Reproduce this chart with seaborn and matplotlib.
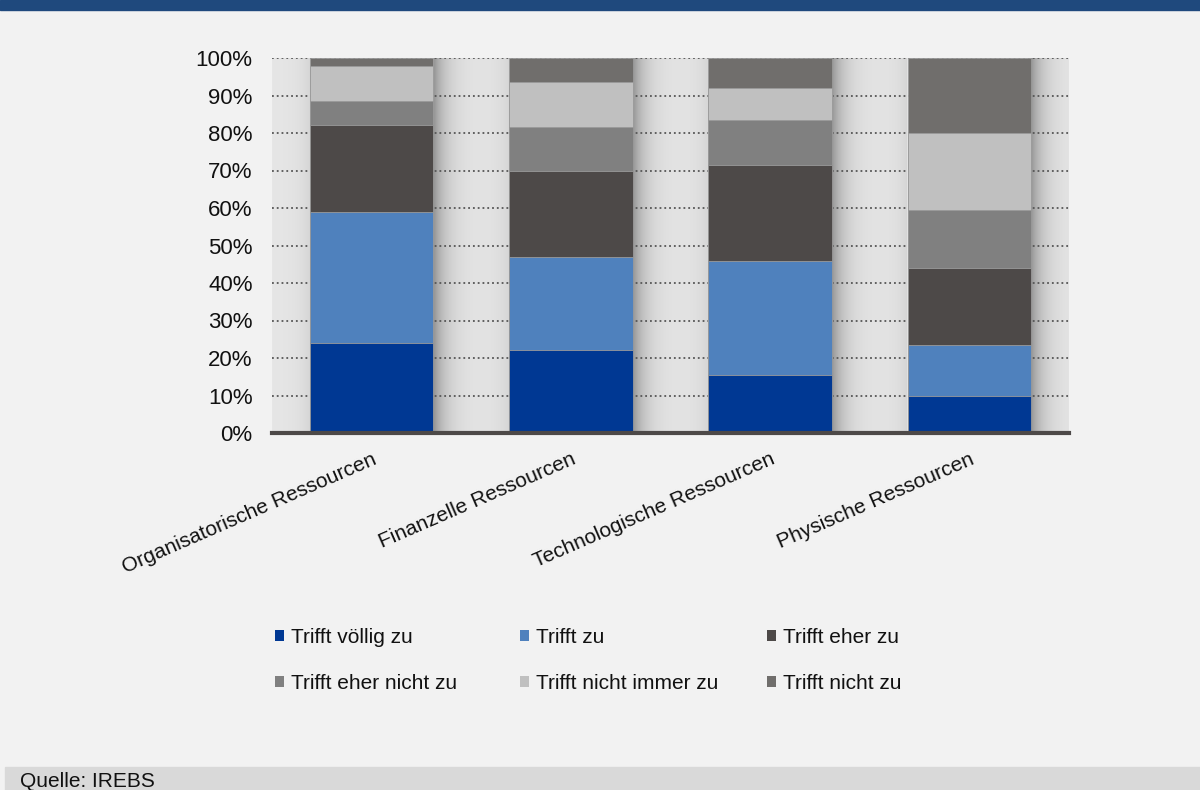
import numpy as np
import pandas as pd
import matplotlib.pyplot as plt
import seaborn as sns
from matplotlib.patches import Rectangle, Patch

# Werte (Anteile in %)
categories = ['Organisatorische Ressourcen', 'Finanzelle Ressourcen',
              'Technologische Ressourcen', 'Physische Ressourcen']
answers = ['Trifft völlig zu', 'Trifft zu', 'Trifft eher zu',
           'Trifft eher nicht zu', 'Trifft nicht immer zu', 'Trifft nicht zu']
voellig_zu = [24.0, 22.2, 15.6, 10.0]
trifft_zu = [35.0, 24.7, 30.4, 13.4]
eher_zu = [23.2, 22.9, 25.5, 20.5]
eher_nicht_zu = [6.3, 11.9, 12.0, 15.6]
nicht_immer_zu = [9.4, 11.8, 8.6, 20.5]
nicht_zu = [2.1, 6.5, 7.9, 20.0]
colors = ['#003893', '#4f81bd', '#4d4948', '#808080', '#c0c0c0', '#706e6c']
yticks = [0, 10, 20, 30, 40, 50, 60, 70, 80, 90, 100]

df = pd.DataFrame({
    'Ressource': categories,
    answers[0]: voellig_zu,
    answers[1]: trifft_zu,
    answers[2]: eher_zu,
    answers[3]: eher_nicht_zu,
    answers[4]: nicht_immer_zu,
    answers[5]: nicht_zu,
})
cum = df[answers].div(100).cumsum(axis=1)

sns.set_theme(style='white')
plt.rcParams['font.family'] = ['Liberation Sans', 'DejaVu Sans']

bg = '#f2f2f2'
fig = plt.figure(figsize=(12, 7.9), dpi=100, facecolor=bg)
ax = fig.add_axes([272 / 1200, 1 - 433 / 790, 797 / 1200, 375 / 790])
ax.set_facecolor(bg)

# weicher Schatten hinter den Saeulen
bar_w = 0.62
xs = np.linspace(-0.5, 3.5, 1000)
dark = np.zeros_like(xs)
for i in range(len(categories)):
    d_r = xs - (i + bar_w / 2)
    d_l = (i - bar_w / 2) - xs
    dark += np.where(d_r > 0, 0.33 * np.exp(-np.clip(d_r, 0, None) / 0.065), 0)
    dark += np.where(d_l > 0, 0.07 * np.exp(-np.clip(d_l, 0, None) / 0.06), 0)
gray = np.clip(0.905 - dark, 0, 1)
img = np.repeat(np.stack([gray, gray, gray], axis=-1)[None, :, :], 10, axis=0)
ax.imshow(img, extent=(-0.5, 3.5, 0, 1), aspect='auto', zorder=0,
          interpolation='bilinear')

# gestapelte Saeulen: kumulierte Werte von oben nach unten uebereinander
for ans, col in reversed(list(zip(answers, colors))):
    sns.barplot(x=df['Ressource'], y=cum[ans], color=col, width=bar_w,
                saturation=1, errorbar=None, edgecolor='#9a9a9a',
                linewidth=0.6, ax=ax, zorder=3)

ax.set_xlim(-0.5, 3.5)
ax.set_ylim(0, 1)
ax.set_yticks(np.array(yticks) / 100)
ax.set_yticklabels([f'{t}%' for t in yticks], fontsize=16, color='#111111')
ax.set_xticks(range(len(categories)))
ax.set_xticklabels(categories, rotation=23.5, ha='right',
                   rotation_mode='anchor', fontsize=15, color='#111111')
ax.set_xlabel('')
ax.set_ylabel('')
ax.tick_params(axis='y', length=0, pad=14)
ax.tick_params(axis='x', length=0, pad=12)
ax.yaxis.grid(True, linestyle=':', color='#555555', linewidth=1.3, zorder=1)
ax.set_axisbelow(False)
for s in ['left', 'right', 'top']:
    ax.spines[s].set_visible(False)
ax.spines['bottom'].set_color('#4d4948')
ax.spines['bottom'].set_linewidth(3)
ax.spines['bottom'].set_zorder(5)

# Legende: drei Spalten mit je zwei Eintraegen
handles = [Patch(facecolor=c, edgecolor='none', label=a)
           for a, c in zip(answers, colors)]
col_x = [275, 520, 767]
for k, x0 in enumerate(col_x):
    idx = [k, k + 3]
    leg = fig.legend([handles[i] for i in idx], [answers[i] for i in idx],
                     loc='upper left', bbox_to_anchor=(x0 / 1200, 1 - 628 / 790),
                     frameon=False, fontsize=15, handlelength=0.45,
                     handleheight=0.45, handletextpad=0.3, labelspacing=1.3,
                     borderpad=0, borderaxespad=0)
    for t in leg.get_texts():
        t.set_color('#111111')

# Kopf- und Fussleiste
fig.add_artist(Rectangle((0, 1 - 10 / 790), 1, 10 / 790,
                         transform=fig.transFigure, color='#1f497d', zorder=0))
fig.add_artist(Rectangle((0.004, 0), 0.996, 23 / 790,
                         transform=fig.transFigure, color='#d9d9d9', zorder=0))
fig.text(20 / 1200, 3 / 790, 'Quelle: IREBS', fontsize=15, va='baseline',
         color='#111111')

fig.savefig('out.png', dpi=100, facecolor=bg)
